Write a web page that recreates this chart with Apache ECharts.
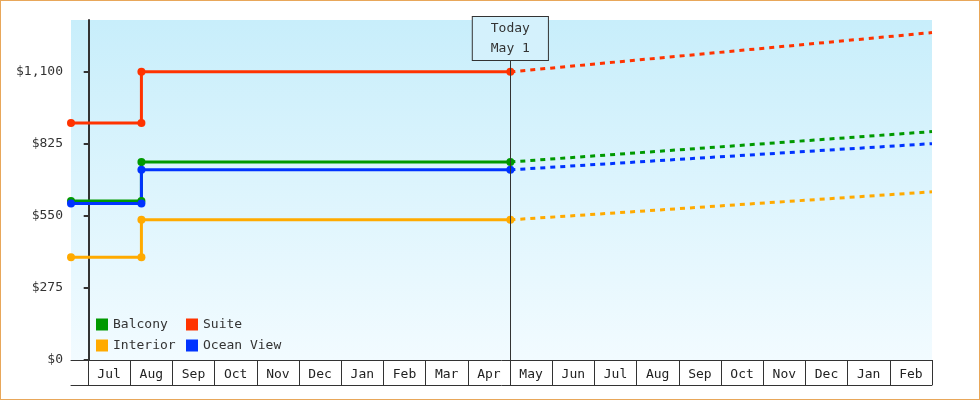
<!DOCTYPE html>
<html><head><meta charset="utf-8">
<script src="https://cdn.jsdelivr.net/npm/echarts@6/dist/echarts.min.js"></script>
<style>html,body{margin:0;padding:0;background:#fff}#c{width:978px;height:398px;border:1px solid #e8a75a}</style>
</head><body><div id="c"></div>
<script>
// x in months since Jul 1 (Jul=0)
const months = ['Jul','Aug','Sep','Oct','Nov','Dec','Jan','Feb','Mar','Apr','May','Jun','Jul','Aug','Sep','Oct','Nov','Dec','Jan','Feb'];
const xHist = [-0.42, 1.25, 1.25, 10];
const xProj = [10, 20];
const suiteHist = [905, 905, 1100, 1100];
const balconyHist = [607, 607, 756, 756];
const oceanHist = [597, 597, 726, 726];
const interiorHist = [392, 392, 535, 535];
const suiteProj = [1100, 1250];
const balconyProj = [756, 872];
const oceanProj = [726, 826];
const interiorProj = [535, 642];
const yTicks = [0, 275, 550, 825, 1100];
const todayX = 10;

const font = 'DejaVu Sans Mono';
const colors = {Balcony:'#009900', Suite:'#ff3300', Interior:'#ffaa00', 'Ocean View':'#0033ff'};
const zip = (xs, ys) => xs.map((x,i)=>[x, ys[i]]);
const hist = (name, ys) => ({name, type:'line', data:zip(xHist, ys), symbol:'circle', symbolSize:8,
  lineStyle:{width:3, color:colors[name]}, itemStyle:{color:colors[name]}, animation:false, z:3});
const proj = (name, ys) => ({name, type:'line', data:zip(xProj, ys), symbol:'none',
  lineStyle:{width:3, type:[5,5], color:colors[name]}, itemStyle:{color:colors[name]}, animation:false, z:2});

const chart = echarts.init(document.getElementById('c'));
chart.setOption({
  animation:false,
  textStyle:{fontFamily:font},
  grid:[{left:70, right:47, top:19, bottom:39, show:true, borderWidth:0,
      backgroundColor:{type:'linear', x:0, y:0, x2:0, y2:1, colorStops:[{offset:0,color:'#c8eefb'},{offset:1,color:'#f2fbff'}]}},
    {left:87, right:47, top:19, bottom:39, show:false}],
  legend:[
    {data:['Balcony','Interior'], orient:'vertical', left:90, top:312, itemWidth:12, itemHeight:12, itemGap:8, icon:'rect',
      textStyle:{fontFamily:font, fontSize:13, color:'#333'}},
    {data:['Suite','Ocean View'], orient:'vertical', left:180, top:312, itemWidth:12, itemHeight:12, itemGap:8, icon:'rect',
      textStyle:{fontFamily:font, fontSize:13, color:'#333'}}],
  xAxis:[
    {type:'value', gridIndex:0, min:-0.42, max:20, axisLine:{show:true, lineStyle:{color:'#333', width:1}}, axisTick:{show:false}, axisLabel:{show:false}, splitLine:{show:false}},
    {type:'value', gridIndex:0, min:-0.42, max:20, position:'bottom', offset:25, axisLine:{show:true, lineStyle:{color:'#333', width:1}}, axisTick:{show:false}, axisLabel:{show:false}, splitLine:{show:false}},
    {type:'category', gridIndex:1, data:months, boundaryGap:true, position:'bottom', axisLine:{show:false},
      axisTick:{show:true, length:25, lineStyle:{color:'#333'}}, axisLabel:{fontFamily:font, fontSize:13, color:'#222', margin:8}, splitLine:{show:false}}
  ],
  yAxis:[
    {type:'value', gridIndex:0, min:0, max:1298, axisLine:{show:true, lineStyle:{color:'#333', width:2}},
      axisTick:{show:true, length:5, lineStyle:{color:'#333', width:2}, customValues:yTicks},
      axisLabel:{customValues:yTicks, fontFamily:font, fontSize:13, color:'#333', margin:8,
        formatter:v=>'$'+v.toLocaleString('en-US')}, splitLine:{show:false}},
    {type:'value', gridIndex:1, show:false}
  ],
  series:[
    hist('Balcony', balconyHist), hist('Suite', suiteHist), hist('Interior', interiorHist), hist('Ocean View', oceanHist),
    proj('Balcony', balconyProj), proj('Suite', suiteProj), proj('Interior', interiorProj), proj('Ocean View', oceanProj),
    {type:'line', data:[], markLine:{symbol:'none', silent:true, animation:false,
      lineStyle:{color:'#333', type:'solid', width:1},
      label:{show:true, position:'end', formatter:'Today\nMay 1', fontFamily:font, fontSize:13, color:'#333', lineHeight:20,
        backgroundColor:'#d4f1fc', borderColor:'#333', borderWidth:1, padding:[2,18,1,18], distance:-40},
      data:[{xAxis:todayX}]}}
  ]
});
</script></body></html>
